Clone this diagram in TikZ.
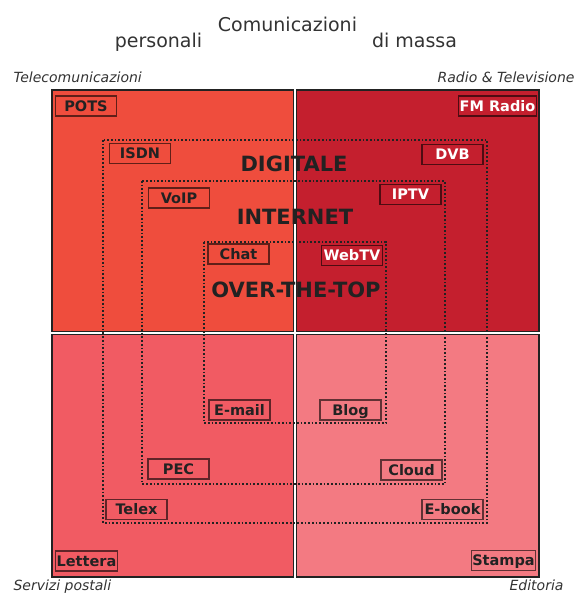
\documentclass[tikz,border=0pt]{standalone}
\usepackage{fontspec}
\setmainfont{DejaVu Sans}
\definecolor{telco}{HTML}{EF4D3D}
\definecolor{radiotv}{HTML}{C41F2E}
\definecolor{posta}{HTML}{F15B63}
\definecolor{editoria}{HTML}{F37A82}
\definecolor{ink}{HTML}{222222}
\definecolor{grigio}{HTML}{333333}
\tikzset{
  quad/.style={draw=ink,line width=1.4pt},
  area/.style={draw=ink,line width=1.7pt,dash pattern=on 1.7pt off 2pt},
  tag/.style={draw=#1!40!black,fill=#1,line width=1.1pt,text=ink,
    font=\bfseries\fontsize{14.5pt}{16pt}\selectfont,
    minimum width=61pt,minimum height=20pt,inner xsep=1pt,inner ysep=0pt,
    text height=11pt,text depth=0.5pt},
  tagw/.style={tag=#1,text=white},
  big/.style={anchor=base,text=ink,font=\bfseries\fontsize{21pt}{23pt}\selectfont},
  title/.style={anchor=base,text=grigio,font=\fontsize{19pt}{21pt}\selectfont},
  sector/.style={text=grigio,font=\itshape\fontsize{14pt}{16pt}\selectfont}
}
\begin{document}
\begin{tikzpicture}[x=1pt,y=-1pt]
    \useasboundingbox (0,0) rectangle (579,593);

    % quadranti
    \filldraw[quad,fill=telco] (52,90) rectangle (293.5,331.5);
    \filldraw[quad,fill=radiotv] (296.5,90) rectangle (539,331.5);
    \filldraw[quad,fill=posta] (52,334.5) rectangle (293.5,577);
    \filldraw[quad,fill=editoria] (296.5,334.5) rectangle (539,577);

    % aree tratteggiate
    \draw[area] (103,140) rectangle (487,523);
    \draw[area] (142,181) rectangle (445,484);
    \draw[area] (204,242) rectangle (386,423);

    \node (digitale) at (294,172) [big] {DIGITALE};
    \node (internet) at (295,225) [big] {INTERNET};
    \node (ott) at (296,297) [big] {OVER-THE-TOP};

    % servizi
    \node (pots) at (86,106) [tag=telco] {POTS};
    \node (isdn) at (140,153.5) [tag=telco] {ISDN};
    \node (voip) at (179,198) [tag=telco] {VoIP};
    \node (chat) at (238.5,254) [tag=telco] {Chat};
    \node (fm) at (497.5,106) [tagw=radiotv] {FM Radio};
    \node (dvb) at (452.5,154.5) [tagw=radiotv] {DVB};
    \node (iptv) at (410.5,194.5) [tagw=radiotv] {IPTV};
    \node (webtv) at (352,255.5) [tagw=radiotv] {WebTV};
    \node (email) at (239.5,410) [tag=posta] {E-mail};
    \node (pec) at (178.5,469) [tag=posta] {PEC};
    \node (telex) at (136.5,509.5) [tag=posta] {Telex};
    \node (lettera) at (86.5,561) [tag=posta] {Lettera};
    \node (blog) at (350.5,410) [tag=editoria] {Blog};
    \node (cloud) at (411.5,470) [tag=editoria] {Cloud};
    \node (ebook) at (452.5,509.5) [tag=editoria] {E-book};
    \node (stampa) at (503.5,560.5) [tag=editoria] {Stampa};

    % intestazioni
    \node (comunicazioni) at (287.5,32) [title] {Comunicazioni};
    \node (personali) at (158.5,48) [title] {personali};
    \node (massa) at (414.5,48) [title] {di massa};

    \node (telecom) at (10,83) [sector,anchor=base west] {Telecomunicazioni};
    \node (radio) at (578,83) [sector,anchor=base east] {Radio \& Televisione};
    \node (postali) at (10,590) [sector,anchor=base west] {Servizi postali};
    \node (editoria) at (567,590) [sector,anchor=base east] {Editoria};
\end{tikzpicture}
\end{document}
